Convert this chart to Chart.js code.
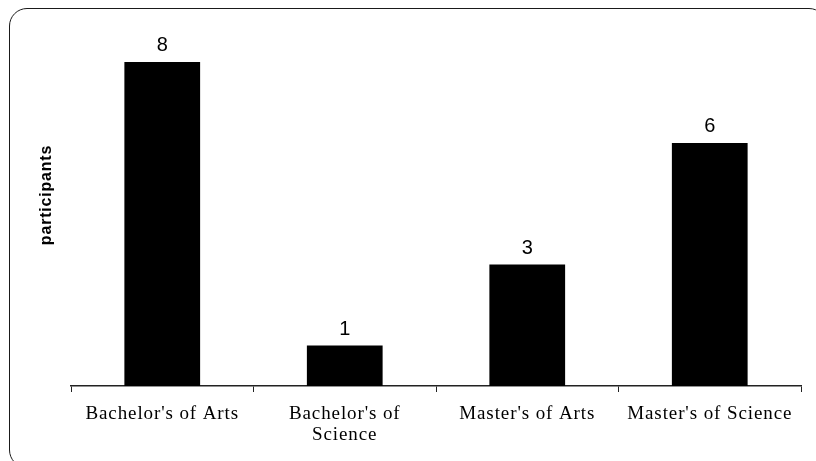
<!DOCTYPE html>
<html><head><meta charset="utf-8">
<script src="https://cdn.jsdelivr.net/npm/chart.js@4"></script>
<style>
html,body{margin:0;padding:0;background:#fff;overflow:hidden}
#wrap{position:relative;width:816px;height:461px;overflow:hidden;background:#fff}
#frame{position:absolute;left:9px;top:8px;width:816px;height:458px;border:1.5px solid #1a1a1a;border-radius:18px;pointer-events:none}
canvas{position:absolute;left:0;top:0}
</style></head><body>
<div id="wrap"><canvas id="c" width="816" height="461"></canvas><div id="frame"></div></div>
<script>
const categories = [["Bachelor's of Arts"], ["Bachelor's of", "Science"], ["Master's of Arts"], ["Master's of Science"]];
const participants = [8, 1, 3, 6];
const yAxisTitle = 'participants';

const spacingPlugin = {
  id: 'spacing',
  beforeDraw(chart) { try { chart.ctx.letterSpacing = '0.9px'; } catch (e) {} },
  beforeDatasetsDraw(chart) { try { chart.ctx.letterSpacing = '0px'; } catch (e) {} }
};
const valueLabels = {
  id: 'valueLabels',
  afterDatasetsDraw(chart) {
    const ctx = chart.ctx;
    const meta = chart.getDatasetMeta(0);
    ctx.save();
    ctx.font = '20px "Liberation Sans", Arial, sans-serif';
    ctx.fillStyle = '#000';
    ctx.textAlign = 'center';
    ctx.textBaseline = 'alphabetic';
    meta.data.forEach((bar, i) => {
      ctx.fillText(String(participants[i]), bar.x, bar.y - 11);
    });
    ctx.restore();
  }
};
const yTitle = {
  id: 'yTitle',
  afterDraw(chart) {
    const ctx = chart.ctx;
    ctx.save();
    try { ctx.letterSpacing = '0.8px'; } catch (e) {}
    ctx.font = 'bold 16px "Liberation Sans", Arial, sans-serif';
    ctx.fillStyle = '#000';
    ctx.textAlign = 'center';
    ctx.textBaseline = 'middle';
    ctx.translate(47, 195);
    ctx.rotate(-Math.PI / 2);
    ctx.fillText(yAxisTitle, 0, 0);
    ctx.restore();
  }
};

new Chart(document.getElementById('c'), {
  type: 'bar',
  data: {
    labels: categories,
    datasets: [{
      data: participants,
      backgroundColor: '#000',
      borderWidth: 0,
      categoryPercentage: 1,
      barPercentage: 0.415
    }]
  },
  options: {
    responsive: false,
    devicePixelRatio: 1,
    animation: false,
    layout: { padding: { top: 21.5, right: 15, left: 0, bottom: 0 } },
    plugins: { legend: { display: false }, tooltip: { enabled: false } },
    scales: {
      x: {
        offset: true,
        grid: { display: true, drawOnChartArea: false, drawTicks: true, tickLength: 6, color: '#222', lineWidth: 1, offset: true },
        border: { display: true, color: '#222', width: 1.5 },
        ticks: {
          color: '#000',
          padding: 11,
          maxRotation: 0,
          autoSkip: false,
          font: { family: '"Liberation Serif", "Times New Roman", serif', size: 19, lineHeight: 1.12 }
        },
        afterFit(scale) { scale.height = 75; }
      },
      y: {
        min: 0,
        max: 9,
        grid: { display: false },
        border: { display: false },
        ticks: { display: false },
        title: { display: false },
        afterFit(scale) { scale.width = 71; }
      }
    }
  },
  plugins: [spacingPlugin, valueLabels, yTitle]
});
</script>
</body></html>
